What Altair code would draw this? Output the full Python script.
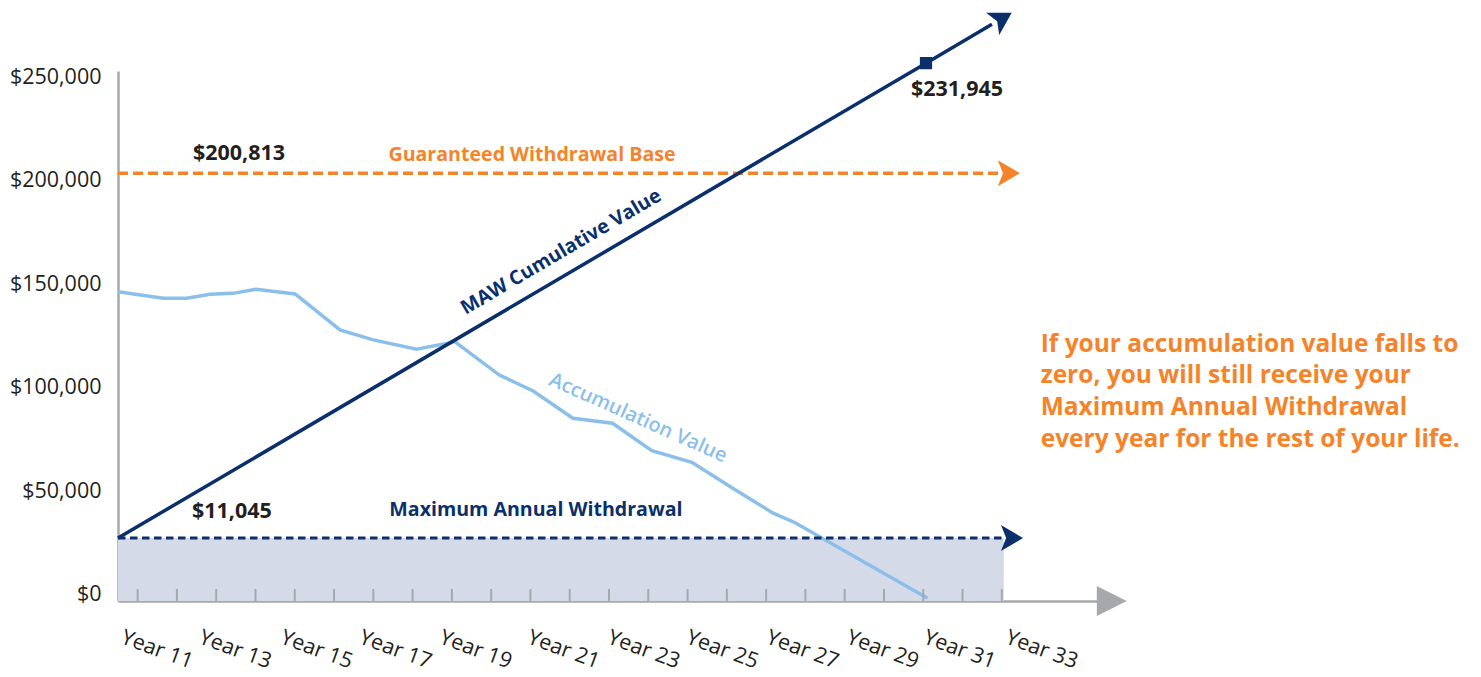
import altair as alt
import pandas as pd

# ---------------- data ----------------
tick_years = list(range(11, 34))
label_years = list(range(11, 34, 2))
label_texts = [f"Year {y}" for y in label_years]
# where each rotated label sits along the axis (in years)
label_x = [10.69, 12.68, 14.75, 16.76, 18.80, 21.04, 23.08, 25.08, 27.12, 29.16, 31.12, 33.21]
y_ticks = [0, 50000, 100000, 150000, 200000, 250000]

acc_years = [10.5, 11.65, 12.25, 12.84, 13.43, 14.01, 15.01, 16.15, 17.0, 18.10,
             19.08, 20.21, 21.07, 22.08, 23.09, 24.09, 25.11, 26.14, 27.18, 27.74, 31.11]
acc_values = [146400, 143200, 143200, 145200, 145600, 147600, 145300, 127900, 123100, 118600,
              122200, 106100, 98400, 85200, 82800, 69500, 63900, 51500, 39300, 34700, -1800]

maw_cum_years = [10.5, 31.07, 32.75]
maw_cum_values = [27300, 256900, 275700]
marker_year = [31.07]
marker_value = [256900]

gwb_years = [10.5, 33.05]
gwb_values = [203700, 203700]
maw_years = [10.5, 33.05]
maw_values = [27300, 27300]
shade_x = [10.5]
shade_x2 = [33.05]
shade_top = [27300]

arrow_years = [33.18, 33.26, 33.01]
arrow_values = [203700, 27300, 278600]
arrow_colors = ["#F5832A", "#0B2F6B", "#0B2F6B"]
arrow_angles = [0, 0, 329.6]

axis_arrow_year = [35.8]

amount_texts = ["$200,813", "$11,045", "$231,945"]
amount_years = [13.58, 13.40, 31.86]
amount_values = [213000, 39900, 244000]

note_text = ("If your accumulation value falls to\nzero, you will still receive your\n"
             "Maximum Annual Withdrawal\nevery year for the rest of your life.")

X_DOMAIN = [10.5, 35.5]
Y_DOMAIN = [-3140, 253100]

NAVY = "#0B2F6B"
ORANGE = "#F5832A"
LIGHT = "#8BBFE9"
SHADE = "#D5DAE8"
GRAY = "#A6A8AB"
DARK = "#231F20"
FONT = "Open Sans"

xs = alt.Scale(domain=X_DOMAIN, nice=False, zero=False)
ys = alt.Scale(domain=Y_DOMAIN, nice=False, zero=False)

x_axis = alt.Axis(
    values=label_years, labels=False, ticks=False, grid=False, title=None,
    domainColor=GRAY, domainWidth=2.5)
y_axis = alt.Axis(
    values=y_ticks, format="$,.0f", ticks=False, grid=False, title=None,
    labelPadding=17, domainColor=GRAY, domainWidth=2.5, labelFontSize=21.5,
    labelColor=DARK, labelFont=FONT, labelOverlap=False, labelFlush=False)


def X(f="year"):
    return alt.X(f"{f}:Q", scale=xs, axis=x_axis)


def Y(f="value"):
    return alt.Y(f"{f}:Q", scale=ys, axis=y_axis)


# shaded area
shade_df = pd.DataFrame({"x": shade_x, "x2": shade_x2, "y": shade_top, "y2": [Y_DOMAIN[0]]})
shade = alt.Chart(shade_df).mark_rect(color=SHADE).encode(
    x=X("x"), x2="x2:Q", y=Y("y"), y2="y2:Q")

acc_df = pd.DataFrame({"year": acc_years, "value": acc_values})
acc = alt.Chart(acc_df).mark_line(color=LIGHT, strokeWidth=3.5).encode(x=X(), y=Y())

gwb_df = pd.DataFrame({"year": gwb_years, "value": gwb_values})
gwb = alt.Chart(gwb_df).mark_line(color=ORANGE, strokeWidth=3.5, strokeDash=[10, 5]).encode(
    x=X(), y=Y())

maw_df = pd.DataFrame({"year": maw_years, "value": maw_values})
maw = alt.Chart(maw_df).mark_line(color=NAVY, strokeWidth=3, strokeDash=[7.5, 4.5]).encode(
    x=X(), y=Y())

cum_df = pd.DataFrame({"year": maw_cum_years, "value": maw_cum_values})
cum = alt.Chart(cum_df).mark_line(color=NAVY, strokeWidth=3.5).encode(x=X(), y=Y())

mk_df = pd.DataFrame({"year": marker_year, "value": marker_value})
marker = alt.Chart(mk_df).mark_point(shape="square", size=150, filled=True, color=NAVY,
                                     opacity=1).encode(x=X(), y=Y())

ARROW = "M0.85,0 L-0.85,-1 L-0.45,0 L-0.85,1 Z"
ar_df = pd.DataFrame({"year": arrow_years, "value": arrow_values,
                      "color": arrow_colors, "angle": arrow_angles})
arrows = alt.Chart(ar_df).mark_point(shape=ARROW, size=676, filled=True, opacity=1,
                                     strokeWidth=0).encode(
    x=X(), y=Y(), color=alt.Color("color:N", scale=None),
    angle=alt.Angle("angle:Q", scale=None))

ax_df = pd.DataFrame({"year": axis_arrow_year, "value": [Y_DOMAIN[0]]})
axis_arrow = alt.Chart(ax_df).mark_point(shape="M1,0 L-1,-1 L-1,1 Z", size=900, filled=True,
                                         opacity=1, color=GRAY, strokeWidth=0).encode(
    x=X(), y=Y())

tick_df = pd.DataFrame({"year": tick_years})
ticks = alt.Chart(tick_df).mark_rule(color=GRAY, strokeWidth=2).encode(
    x=X(), y=alt.value(530), y2=alt.value(518))

xlab_df = pd.DataFrame({"text": label_texts, "year": label_x})
xlabels = alt.Chart(xlab_df).mark_text(font=FONT, fontSize=21.5, color=DARK, angle=20,
                                       align="left", baseline="top").encode(
    x=X(), y=alt.value(556), text="text:N")

amt_df = pd.DataFrame({"text": amount_texts, "year": amount_years, "value": amount_values})
amounts = alt.Chart(amt_df).mark_text(font=FONT, fontSize=21.5, fontWeight="bold", color=DARK,
                                      align="center", baseline="middle").encode(
    x=X(), y=Y(), text="text:N")

names_df = pd.DataFrame({
    "text": ["Guaranteed Withdrawal Base", "Maximum Annual Withdrawal",
             "MAW Cumulative Value"],
    "year": [21.04, 21.14, 21.78],
    "value": [212500, 40900, 165600],
    "color": [ORANGE, NAVY, NAVY],
    "angle": [0, 0, 329.6],
})
names = alt.Chart(names_df).mark_text(font=FONT, fontSize=19.6, fontWeight="bold",
                                      align="center", baseline="middle").encode(
    x=X(), y=Y(), text="text:N", color=alt.Color("color:N", scale=None),
    angle=alt.Angle("angle:Q", scale=None))

acc_label_df = pd.DataFrame({"text": ["Accumulation Value"], "year": [23.74], "value": [85300]})
acc_label = alt.Chart(acc_label_df).mark_text(font=FONT, fontSize=20, fontWeight=600,
                                              color=LIGHT, angle=24, align="center",
                                              baseline="middle").encode(
    x=X(), y=Y(), text="text:N")

note_df = pd.DataFrame({"text": [note_text], "year": [33.99], "value": [117400]})
note = alt.Chart(note_df).mark_text(font=FONT, fontSize=24.5, fontWeight="bold", color=ORANGE,
                                    align="left", baseline="alphabetic", lineBreak="\n",
                                    lineHeight=31.7).encode(
    x=X(), y=Y(), text="text:N")

chart = alt.layer(shade, acc, gwb, maw, cum, marker, arrows, axis_arrow, ticks, xlabels,
                  amounts, names, acc_label, note).properties(
    width=982, height=530,
    autosize=alt.AutoSizeParams(type="none"),
    padding={"left": 110, "top": 63, "right": 368, "bottom": 74},
).configure(font=FONT).configure_view(stroke=None)

chart.save("out.html", embed_options={"renderer": "svg", "actions": False})
